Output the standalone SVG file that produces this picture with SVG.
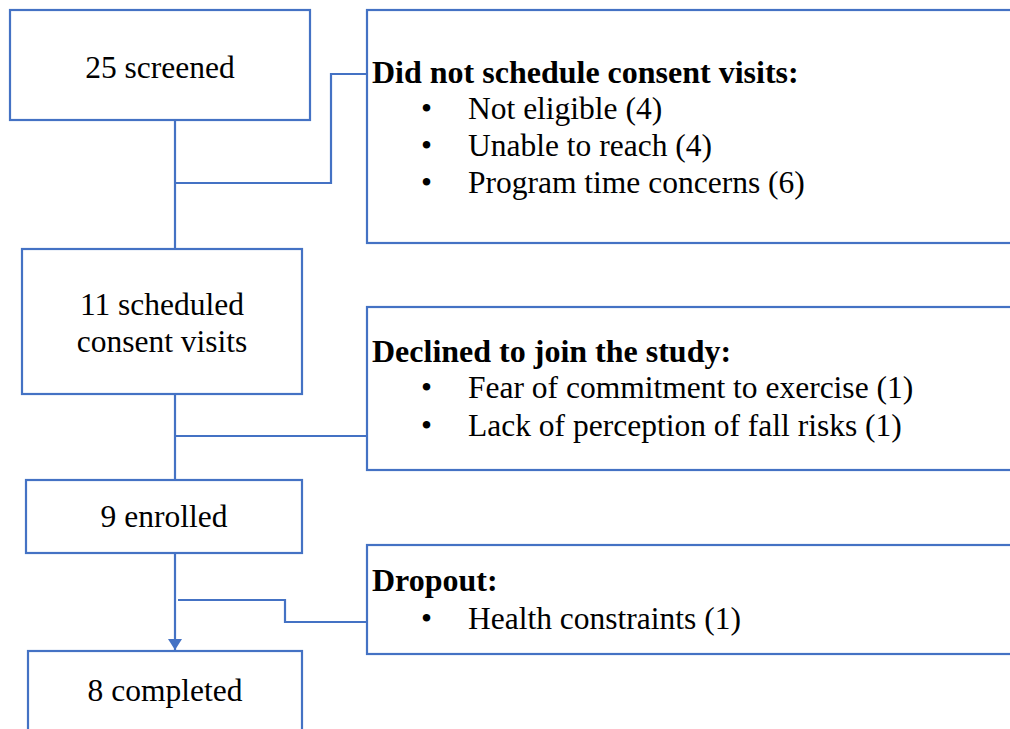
<svg xmlns="http://www.w3.org/2000/svg" width="1010" height="729" viewBox="0 0 1010 729">
<style>
.box{fill:#fff;stroke:#4472C4;stroke-width:2.2}
.ln{fill:none;stroke:#4472C4;stroke-width:2.2}
text{font-family:'Liberation Serif','Times New Roman',serif;font-size:31.5px;fill:#000}
.c{text-anchor:middle}
.b{font-weight:700;font-size:32px}
</style>
<defs>
<marker id="ah" markerWidth="14" markerHeight="11" refX="7" refY="11" orient="0" markerUnits="userSpaceOnUse">
<path d="M0,0 L14,0 L7,11 Z" fill="#4472C4"/>
</marker>
</defs>
<g id="connectors">
<path class="ln" d="M175,120 V249"/>
<path class="ln" d="M175,183 H331 V74 H367"/>
<path class="ln" d="M175,394 V480"/>
<path class="ln" d="M175,436 H367"/>
<path class="ln" d="M175,553 V650" marker-end="url(#ah)"/>
<path class="ln" d="M178,600 H285 V622 H367"/>
</g>
<g id="n1"><rect class="box" x="10" y="10" width="300" height="110"/><text class="c" x="160" y="78">25 screened</text></g>
<g id="e1"><rect class="box" x="367" y="10" width="660" height="233"/>
<text class="b" x="372" y="83">Did not schedule consent visits:</text>
<text x="421" y="119">•</text><text x="468" y="119">Not eligible (4)</text>
<text x="421" y="156">•</text><text x="468" y="156">Unable to reach (4)</text>
<text x="421" y="193">•</text><text x="468" y="193">Program time concerns (6)</text>
</g>
<g id="n2"><rect class="box" x="22" y="249" width="280" height="145"/><text class="c" x="162" y="315">11 scheduled</text><text class="c" x="162" y="352">consent visits</text></g>
<g id="e2"><rect class="box" x="367" y="307" width="660" height="163"/>
<text class="b" x="372" y="362">Declined to join the study:</text>
<text x="421" y="398">•</text><text x="468" y="398">Fear of commitment to exercise (1)</text>
<text x="421" y="436">•</text><text x="468" y="436">Lack of perception of fall risks (1)</text>
</g>
<g id="n3"><rect class="box" x="26" y="480" width="276" height="73"/><text class="c" x="164" y="527">9 enrolled</text></g>
<g id="e3"><rect class="box" x="367" y="545" width="660" height="109"/>
<text class="b" x="372" y="591">Dropout:</text>
<text x="421" y="629">•</text><text x="468" y="629">Health constraints (1)</text>
</g>
<g id="n4"><rect class="box" x="28" y="651" width="274" height="110"/><text class="c" x="165" y="701">8 completed</text></g>
</svg>
